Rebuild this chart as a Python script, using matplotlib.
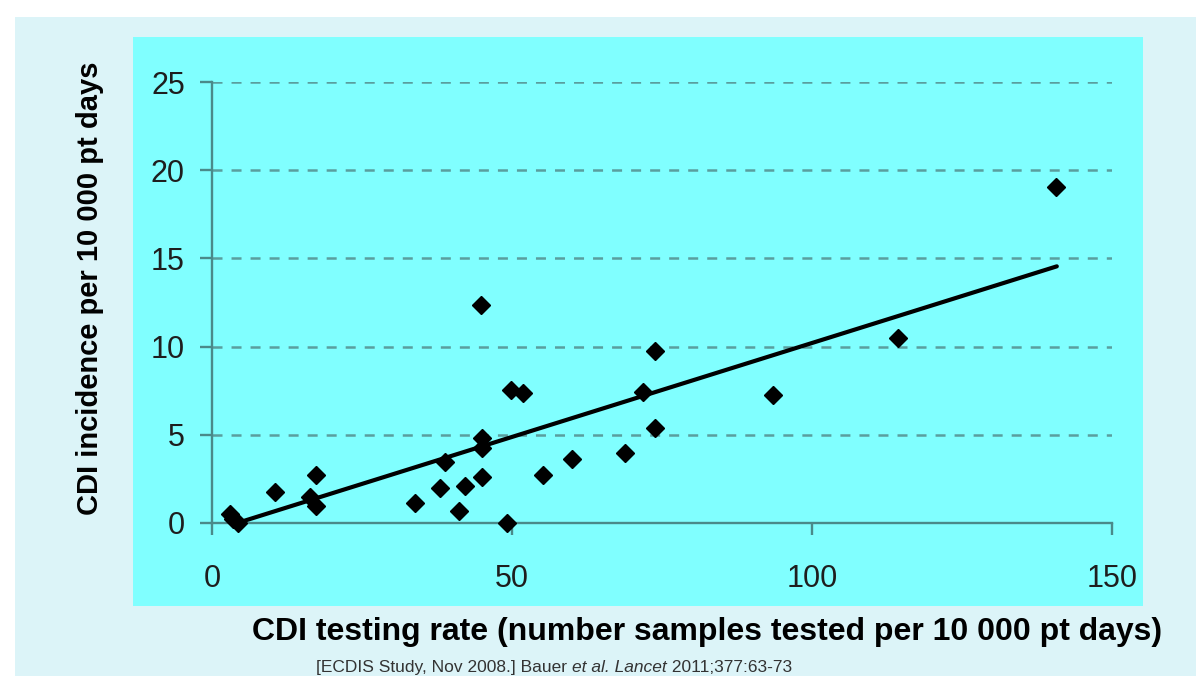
import matplotlib
matplotlib.use("Agg")
import matplotlib.pyplot as plt
from matplotlib.patches import Rectangle

# ---- data ----
testing_rate = [3.0, 3.5, 4.3, 10.5, 16.3, 17.3, 17.3, 33.8, 38.0, 38.8,
                41.2, 42.2, 44.8, 45.0, 45.0, 45.0, 49.2, 49.8, 51.8, 55.2,
                60.0, 68.8, 71.8, 73.8, 73.8, 93.5, 114.3, 140.6]
incidence = [0.53, 0.24, 0.0, 1.77, 1.49, 2.74, 0.98, 1.15, 2.0, 3.47,
             0.70, 2.11, 12.37, 4.83, 4.27, 2.62, 0.0, 7.55, 7.38, 2.74,
             3.64, 3.98, 7.44, 9.77, 5.40, 7.27, 10.48, 19.05]
trend_x = [4.2, 140.8]
trend_y = [0.0, 14.55]
x_ticks = [0, 50, 100, 150]
y_ticks = [0, 5, 10, 15, 20, 25]
x_label = "CDI testing rate (number samples tested per 10 000 pt days)"
y_label = "CDI incidence per 10 000 pt days"

W, H = 1196, 676
plt.rcParams['font.family'] = ['Liberation Sans', 'DejaVu Sans']
plt.rcParams['lines.scale_dashes'] = False

fig = plt.figure(figsize=(W / 100, H / 100), dpi=100, facecolor='white')

def fx(px):
    return px / W

def fy(py):
    return 1 - py / H

# outer light panel and inner cyan plot area
fig.patches.append(Rectangle((fx(15), 0), fx(W) - fx(15), fy(17), transform=fig.transFigure,
                             facecolor='#DCF4F8', edgecolor='none', zorder=-2))
fig.patches.append(Rectangle((fx(133), fy(606)), fx(1143) - fx(133), fy(37) - fy(606),
                             transform=fig.transFigure, facecolor='#80FFFF',
                             edgecolor='none', zorder=-1))

ax = fig.add_axes([fx(212), fy(523), fx(1112) - fx(212), fy(82) - fy(523)])
ax.set_zorder(5)
ax.patch.set_alpha(0)
ax.set_xlim(0, 150)
ax.set_ylim(0, 25)

axis_col = '#4A8A8A'
for s in ['top', 'right']:
    ax.spines[s].set_visible(False)
for s in ['left', 'bottom']:
    ax.spines[s].set_color(axis_col)
    ax.spines[s].set_linewidth(1.7)

ax.set_xticks(x_ticks)
ax.set_yticks(y_ticks)
ax.tick_params(axis='both', direction='out', length=8.5, width=1.7, color=axis_col,
               labelsize=22, labelcolor='#1E1E1E')
ax.tick_params(axis='x', pad=21)
ax.tick_params(axis='y', pad=11)

for yv in y_ticks[1:]:
    ax.axhline(yv, color='#5A9E9E', lw=1.8, dashes=(7.2, 6.5), zorder=1)

ax.plot(trend_x, trend_y, color='black', lw=3.0, solid_capstyle='round', zorder=3)
ax.plot(testing_rate, incidence, linestyle='none', marker='D', markersize=9.6,
        color='black', zorder=4, clip_on=False)

fig.text(fx(707), fy(632), x_label, ha='center', va='center', fontsize=23,
         fontweight='bold', color='black')
fig.text(fx(90), fy(288), y_label, ha='center', va='center', fontsize=21,
         fontweight='bold', color='black', rotation=90)

cap_y = fy(675)
cap = fig.text(fx(316), cap_y, "[ECDIS Study, Nov 2008.] Bauer ", ha='left', va='bottom',
               fontsize=12.5, color='#333333')
fig.canvas.draw()
r = fig.canvas.get_renderer()
bb = cap.get_window_extent(r)
t2 = fig.text(bb.x1 / W, cap_y, "et al. Lancet", ha='left', va='bottom', fontsize=12.5,
              color='#333333', style='italic')
bb2 = t2.get_window_extent(r)
fig.text(bb2.x1 / W, cap_y, " 2011;377:63-73", ha='left', va='bottom', fontsize=12.5,
         color='#333333')

fig.savefig('out.png', dpi=100, facecolor='white')
